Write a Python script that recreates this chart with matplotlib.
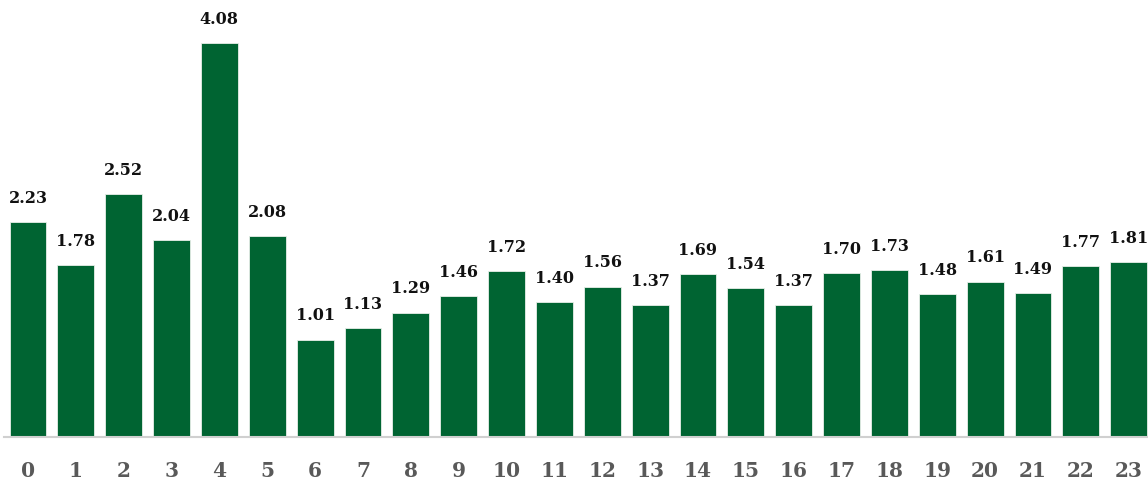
import matplotlib.pyplot as plt

# hours of the day and the average value per hour
hours = [str(h) for h in range(24)]
values = [2.23, 1.78, 2.52, 2.04, 4.08, 2.08, 1.01, 1.13, 1.29, 1.46, 1.72, 1.40,
          1.56, 1.37, 1.69, 1.54, 1.37, 1.70, 1.73, 1.48, 1.61, 1.49, 1.77, 1.81]

fig = plt.figure(figsize=(11.48, 4.80), dpi=100)
ax = fig.add_axes([4 / 1148, 1 - 437 / 480, 1 - 4 / 1148 + 0.004, 437 / 480])

bars = ax.bar(range(len(values)), values, width=0.77, color="#006432",
              edgecolor="#e8efe9", linewidth=0.6)

for i, v in enumerate(values):
    ax.annotate(f"{v:.2f}", (i, v), xytext=(0, 11), textcoords="offset points",
                ha="center", va="bottom", fontsize=11.5, fontweight="bold",
                family="DejaVu Serif", color="#111111")

ax.set_xlim(-0.5, 23.5)
ax.set_ylim(0, 4.53)
ax.set_xticks(range(len(values)))
ax.set_xticklabels(hours, fontsize=14.5, fontweight="bold", family="DejaVu Serif",
                   color="#595959")
ax.tick_params(axis="x", length=0, pad=17)
ax.set_yticks([])

for s in ["top", "right", "left"]:
    ax.spines[s].set_visible(False)
ax.spines["bottom"].set_color("#d0d0d0")
ax.spines["bottom"].set_linewidth(1.5)

fig.savefig("out.png", dpi=100)
